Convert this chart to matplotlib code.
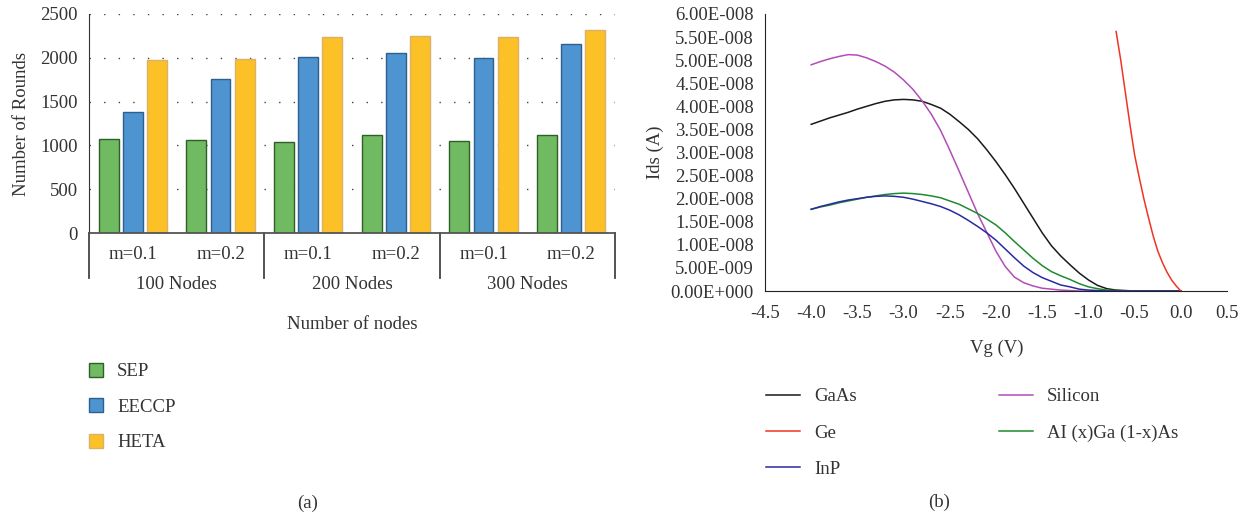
import numpy as np
import matplotlib
matplotlib.use("Agg")
import matplotlib.pyplot as plt
from matplotlib import transforms
from matplotlib.ticker import FuncFormatter, FixedLocator

plt.rcParams['font.family'] = ['Liberation Serif', 'DejaVu Serif']
plt.rcParams['axes.unicode_minus'] = False

# ---- panel (a) data
m_labels = ['m=0.1', 'm=0.2', 'm=0.1', 'm=0.2', 'm=0.1', 'm=0.2']
node_labels = ['100 Nodes', '200 Nodes', '300 Nodes']
sep = [1078, 1067, 1034, 1119, 1054, 1119]
eeccp = [1376, 1755, 2005, 2055, 1998, 2161]
heta = [1972, 1992, 2233, 2249, 2233, 2317]

# ---- panel (b) data (Ids in units of 1e-8 A)
vg = [-4.0, -3.9, -3.8, -3.7, -3.6, -3.5, -3.4, -3.3, -3.2, -3.1, -3.0,
      -2.9, -2.8, -2.7, -2.6, -2.5, -2.4, -2.3, -2.2, -2.1, -2.0,
      -1.9, -1.8, -1.7, -1.6, -1.5, -1.4, -1.3, -1.2, -1.1, -1.0,
      -0.9, -0.8, -0.7, -0.6, -0.5, -0.4, -0.3, -0.2, -0.1, 0.0]
gaas = [3.61, 3.68, 3.75, 3.81, 3.87, 3.94, 4.00, 4.06, 4.11, 4.14, 4.15,
        4.14, 4.11, 4.04, 3.96, 3.83, 3.67, 3.50, 3.30, 3.06, 2.80,
        2.52, 2.22, 1.90, 1.58, 1.26, 0.98, 0.76, 0.57, 0.39, 0.24,
        0.12, 0.05, 0.02, 0.01, 0.0, 0.0, 0.0, 0.0, 0.0, 0.0]
silicon = [4.90, 4.97, 5.03, 5.08, 5.12, 5.11, 5.05, 4.97, 4.87, 4.74, 4.57,
           4.37, 4.12, 3.83, 3.48, 3.05, 2.60, 2.14, 1.68, 1.27, 0.86,
           0.53, 0.30, 0.18, 0.11, 0.06, 0.04, 0.02, 0.01, 0.0, 0.0,
           0.0, 0.0, 0.0, 0.0, 0.0, 0.0, 0.0, 0.0, 0.0, 0.0]
algaas = [1.77, 1.82, 1.86, 1.91, 1.95, 1.99, 2.03, 2.06, 2.09, 2.11, 2.12,
          2.11, 2.09, 2.06, 2.02, 1.95, 1.88, 1.78, 1.68, 1.56, 1.43,
          1.26, 1.07, 0.89, 0.71, 0.55, 0.42, 0.33, 0.25, 0.16, 0.09,
          0.05, 0.02, 0.01, 0.0, 0.0, 0.0, 0.0, 0.0, 0.0, 0.0]
inp = [1.77, 1.83, 1.88, 1.93, 1.97, 2.00, 2.03, 2.05, 2.06, 2.05, 2.03,
       1.99, 1.94, 1.89, 1.83, 1.75, 1.65, 1.53, 1.40, 1.26, 1.10,
       0.91, 0.72, 0.54, 0.40, 0.29, 0.21, 0.13, 0.09, 0.04, 0.02,
       0.01, 0.0, 0.0, 0.0, 0.0, 0.0, 0.0, 0.0, 0.0, 0.0]
vg_ge = [-0.70, -0.65, -0.60, -0.55, -0.50, -0.45, -0.40, -0.35,
         -0.30, -0.25, -0.20, -0.15, -0.10, -0.05, 0.0]
ge = [5.62, 5.00, 4.30, 3.60, 2.95, 2.46, 2.00, 1.59,
      1.20, 0.87, 0.62, 0.41, 0.24, 0.11, 0.0]

txt = '#333333'
fs = 13.5

fig = plt.figure(figsize=(12.48, 5.17), dpi=100)

# ================= (a)
ax = fig.add_axes([89/1248, 1-233/517, 526/1248, 219/517])
x = np.arange(len(m_labels))
w = 0.228
off = 0.274
b1 = ax.bar(x - off, sep, w, color='#70bb62', edgecolor='#2f5f28', linewidth=1.0, label='SEP')
b2 = ax.bar(x, eeccp, w, color='#4e94d0', edgecolor='#2f5f8e', linewidth=1.0, label='EECCP')
b3 = ax.bar(x + off, heta, w, color='#fcc126', edgecolor='#ddb068', linewidth=1.0, label='HETA')
ax.set_xlim(-0.5, len(m_labels) - 0.5)
ax.set_ylim(0, 2500)
ax.set_yticks(np.arange(0, 2501, 500))
ax.yaxis.grid(True, linestyle=(0, (1, 9.5)), color='#444444', linewidth=1.0)
ax.set_axisbelow(True)
ax.set_xticks([])
ax.tick_params(axis='y', length=0, pad=8, labelsize=fs, labelcolor=txt)
for s in ['top', 'right']:
    ax.spines[s].set_visible(False)
ax.spines['left'].set_color('#333333')
ax.spines['bottom'].set_color('#555555')
ax.spines['bottom'].set_linewidth(1.3)
ax.set_ylabel('Number of Rounds', fontsize=fs, color=txt)
ax.yaxis.set_label_coords(-0.112, 0.5)

trans = transforms.blended_transform_factory(ax.transData, ax.transAxes)
for i, lab in enumerate(m_labels):
    ax.text(i, -0.096, lab, transform=trans, ha='center', va='center', fontsize=fs, color=txt)
for g, lab in enumerate(node_labels):
    ax.text(2*g + 0.5, -0.237, lab, transform=trans, ha='center', va='center', fontsize=fs, color=txt)
for xb in [-0.5, 1.5, 3.5, 5.5]:
    ax.plot([xb, xb], [0, -0.205], transform=trans, color='#444444', lw=1.3, clip_on=False)
ax.text(0.5, -0.42, 'Number of nodes', transform=ax.transAxes, ha='center', va='center',
        fontsize=fs, color=txt)

fig.legend(handles=[b1, b2, b3], loc='upper left', bbox_to_anchor=(89/1248, 1-363/517),
           frameon=False, fontsize=fs, borderpad=0, borderaxespad=0,
           handlelength=0.75, handleheight=0.75, handletextpad=0.75, labelspacing=0.96,
           labelcolor=txt)
fig.text(308/1248, 1-503/517, '(a)', ha='center', va='center', fontsize=fs, color=txt)

# ================= (b)
bx = fig.add_axes([765/1248, 1-291/517, 462/1248, 277/517])
scale = 1e-8
l1, = bx.plot(vg, np.array(gaas)*scale, color='#1a1a1a', lw=1.1, label='GaAs')
l4, = bx.plot(vg, np.array(silicon)*scale, color='#b24db8', lw=1.1, label='Silicon')
l5, = bx.plot(vg, np.array(algaas)*scale, color='#1f8a2e', lw=1.1, label='AI (x)Ga (1-x)As')
l3, = bx.plot(vg, np.array(inp)*scale, color='#2a2aa0', lw=1.1, label='InP')
l2, = bx.plot(vg_ge, np.array(ge)*scale, color='#f03324', lw=1.1, label='Ge')
bx.set_xlim(-4.5, 0.5)
bx.set_ylim(0, 6e-8)
bx.xaxis.set_major_locator(FixedLocator(np.arange(-4.5, 0.51, 0.5)))
bx.yaxis.set_major_locator(FixedLocator(np.arange(0, 6.01e-8, 0.5e-8)))
bx.xaxis.set_major_formatter(FuncFormatter(lambda v, p: '%.1f' % (0.0 if abs(v) < 1e-9 else v)))


def sci_fmt(v, p):
    if abs(v) < 1e-20:
        return '0.00E+000'
    e = int(np.floor(np.log10(abs(v)) + 1e-9))
    return '%.2fE%s' % (v / 10**e, format(e, '+04d'))


bx.yaxis.set_major_formatter(FuncFormatter(sci_fmt))
bx.tick_params(length=0, labelsize=fs, labelcolor=txt)
bx.tick_params(axis='y', pad=8)
bx.tick_params(axis='x', pad=10)
for s in ['top', 'right']:
    bx.spines[s].set_visible(False)
bx.spines['left'].set_color('#222222')
bx.spines['bottom'].set_color('#222222')
bx.set_ylabel('Ids (A)', fontsize=fs, color=txt)
bx.yaxis.set_label_coords(-0.218, 0.5)
bx.set_xlabel('Vg (V)', fontsize=fs, color=txt)
bx.xaxis.set_label_coords(0.502, -0.175)

fig.legend(handles=[l1, l2, l3, l4, l5], loc='upper left', ncol=2,
           bbox_to_anchor=(766/1248, 1-388/517), frameon=False, fontsize=fs,
           borderpad=0, borderaxespad=0, handlelength=1.81, handletextpad=0.75,
           labelspacing=1.03, columnspacing=7.6, labelcolor=txt)
fig.text(939/1248, 1-502/517, '(b)', ha='center', va='center', fontsize=fs, color=txt)

fig.savefig('out.png', dpi=100)
